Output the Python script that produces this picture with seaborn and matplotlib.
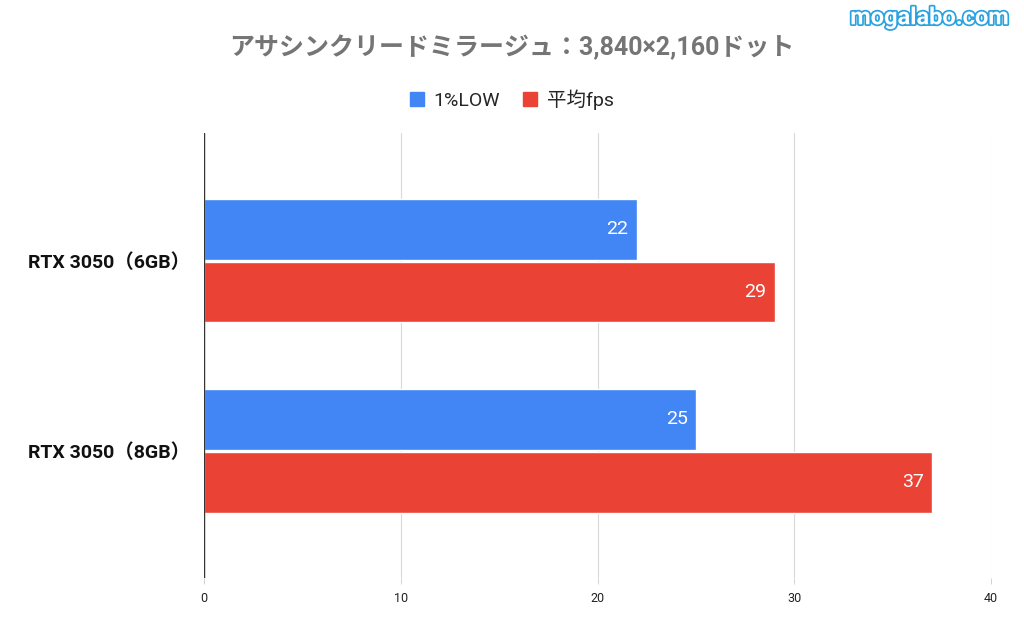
import matplotlib
matplotlib.use("Agg")
import matplotlib.pyplot as plt
import matplotlib.patheffects as pe
import pandas as pd
import seaborn as sns

# データ
gpus = ["RTX 3050（6GB）", "RTX 3050（8GB）"]
series = ["1%LOW", "平均fps"]
low_fps = [22, 25]
avg_fps = [29, 37]
colors = {"1%LOW": "#4285F4", "平均fps": "#EA4335"}

df = pd.DataFrame({
    "gpu": gpus * 2,
    "series": [series[0]] * 2 + [series[1]] * 2,
    "fps": low_fps + avg_fps,
})

sns.set_theme(style="white")
plt.rcParams["font.family"] = ["Roboto", "Noto Sans CJK JP", "DejaVu Sans"]

fig = plt.figure(figsize=(10.24, 6.34), dpi=100)
ax = fig.add_axes([0.199, 0.088, 0.769, 0.702])

sns.barplot(data=df, x="fps", y="gpu", hue="series", palette=colors,
            orient="h", width=0.66, gap=0.03, saturation=1, ax=ax, legend=False)

for cont in ax.containers:
    for t in ax.bar_label(cont, padding=-6, color="white", fontsize=14):
        t.set_ha("right")

ax.set_xlim(0, 40)
ax.set_ylim(1.67, -0.67)
ax.set_xticks([0, 10, 20, 30, 40])
ax.tick_params(axis="x", labelsize=9, colors="#222222", length=4, width=0.6,
               color="#cccccc", pad=6, bottom=True)
ax.tick_params(axis="y", labelsize=14, length=0, pad=10)
for lbl in ax.get_yticklabels():
    lbl.set_fontweight("bold")
    lbl.set_color("#111111")
ax.grid(axis="x", color="#d9d9d9", linewidth=0.8)
ax.set_axisbelow(True)
for s in ax.spines.values():
    s.set_visible(False)
ax.axvline(0, color="#333333", linewidth=1)
ax.set_xlabel("")
ax.set_ylabel("")

fig.text(0.5, 0.925, "アサシンクリードミラージュ：3,840×2,160ドット",
         ha="center", va="center", fontsize=18, fontweight="bold", color="#757575")

handles = [plt.Rectangle((0, 0), 1, 1, color=colors[s]) for s in series]
fig.legend(handles, series, loc="center", bbox_to_anchor=(0.5, 0.843), ncol=2,
           frameon=False, fontsize=14, handlelength=0.7, handleheight=0.7,
           handletextpad=0.5, columnspacing=1.2)

fig.text(0.985, 0.972, "mogalabo.com", ha="right", va="center", fontsize=17,
         fontweight="bold", color="white",
         path_effects=[pe.withStroke(linewidth=2.5, foreground="#29a3e0")])

fig.savefig("out.png", dpi=100)
